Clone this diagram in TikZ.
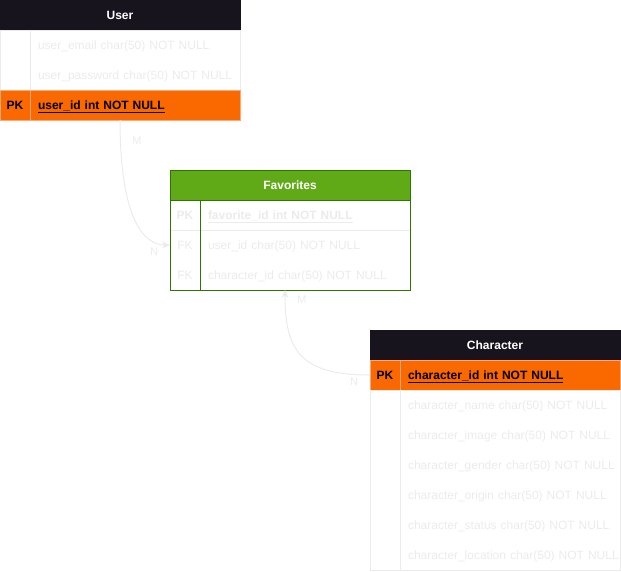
\documentclass[tikz,border=0pt]{standalone}
\usepackage{fontspec}
\setmainfont{Liberation Sans}
\usetikzlibrary{positioning,arrows.meta}
\definecolor{hdark}{HTML}{18141D}
\definecolor{pkorange}{HTML}{FA6800}
\definecolor{pkline}{HTML}{FBA77A}
\definecolor{favgreen}{HTML}{60A917}
\definecolor{favline}{HTML}{2D7600}
\definecolor{faint}{HTML}{EBEBEB}
\newcommand\rowtxt[1]{\mbox{#1}}
\begin{document}
\begin{tikzpicture}[x=1pt, y=-1pt, line width=1pt,
    every node/.style={font=\fontsize{12}{14}\selectfont, inner sep=0pt, outer sep=0pt, text height=10pt, text depth=2pt},
    head/.style={rectangle, anchor=north west, minimum height=30pt, text=white, font=\fontsize{12}{14}\selectfont\bfseries},
    key/.style={rectangle, minimum width=30pt, minimum height=30pt, text=faint},
    field/.style={rectangle, minimum height=30pt, text width=194pt, inner xsep=8pt, align=left, text=faint},
    pk/.style={fill=pkorange, draw=pkline, text=black, font=\fontsize{12}{14}\selectfont\bfseries},
    link/.style={faint, -{Stealth[length=8pt,width=7pt]}},
    card/.style={text=faint, font=\fontsize{11}{13}\selectfont}]
\useasboundingbox (0,0) rectangle (621,571);

% user table
\node[head, fill=hdark, draw=hdark, minimum width=240pt] (user) at (0,0) {User};
\node[key, below right=0pt of user.south west] (uk1) {};
\node[field, right=0pt of uk1] (uf1) {\rowtxt{user\_email char(50) NOT NULL}};
\node[key, below=0pt of uk1] (uk2) {};
\node[field, right=0pt of uk2] (uf2) {\rowtxt{user\_password char(50) NOT NULL}};
\draw[faint] (user.south west) rectangle (uf2.south east);
\draw[faint] (uk1.north east) -- (uk2.south east);
\node[key, pk, below=0pt of uk2] (uk3) {PK};
\node[field, pk, right=0pt of uk3] (uf3) {\rowtxt{\underline{user\_id int NOT NULL}}};

% favorites table
\node[head, fill=favgreen, draw=favline, minimum width=240pt] (fav) at (170,170) {Favorites};
\node[key, font=\fontsize{12}{14}\selectfont\bfseries, below right=0pt of fav.south west] (fk1) {PK};
\node[field, font=\fontsize{12}{14}\selectfont\bfseries, right=0pt of fk1] (ff1) {\rowtxt{\underline{favorite\_id int NOT NULL}}};
\node[key, below=0pt of fk1] (fk2) {FK};
\node[field, right=0pt of fk2] (ff2) {\rowtxt{user\_id char(50) NOT NULL}};
\node[key, below=0pt of fk2] (fk3) {FK};
\node[field, right=0pt of fk3] (ff3) {\rowtxt{character\_id char(50) NOT NULL}};
\draw[faint] (fk1.south west) -- (ff1.south east);
\draw[favline] (fav.south west) rectangle (ff3.south east);
\draw[favline] (fk1.north east) -- (fk3.south east);

% character table
\node[head, fill=hdark, draw=hdark, minimum width=250pt] (char) at (370,330) {Character};
\node[key, pk, below right=0pt of char.south west] (ck0) {PK};
\node[field, pk, text width=204pt, right=0pt of ck0] (cf0) {\rowtxt{\underline{character\_id int NOT NULL}}};
\foreach \i/\txt in {1/name,2/image,3/gender,4/origin,5/status,6/location} {
    \node[field, text width=204pt, anchor=north west] (cf\i) at (400,{360+30*\i}) {\rowtxt{character\_\txt{} char(50) NOT NULL}};
}
\draw[faint] (ck0.south west) rectangle (cf6.south east);
\draw[faint] (ck0.south east) -- (cf6.south west);

% relations
\draw[link] (user.south |- uk3.south) .. controls +(0,90) and +(-30,0) .. (fk2.west);
\draw[link] (ck0.west) .. controls +(-70,0) and +(0,60) .. ([xshift=-5pt]fav.south |- fk3.south);
\node[card] (m1) at (137,140) {M};
\node[card] (n1) at (154,251) {N};
\node[card] (n2) at (354,381) {N};
\node[card] (m2) at (302,299) {M};
\end{tikzpicture}
\end{document}
